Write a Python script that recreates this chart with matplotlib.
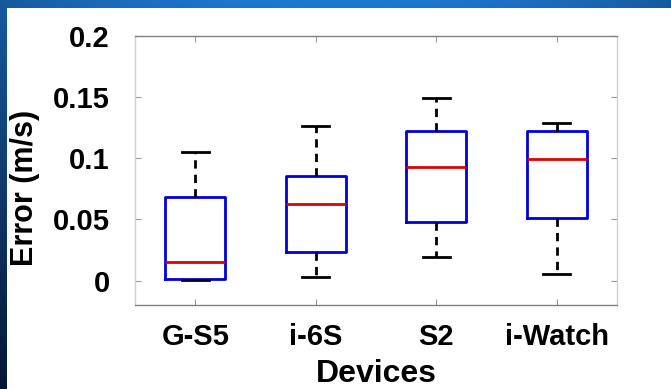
"""Velocity error per device - MATLAB-style boxplot on a blue slide background."""
import numpy as np
import matplotlib.pyplot as plt
from matplotlib.patches import Rectangle

devices = ['G-S5', 'i-6S', 'S2', 'i-Watch']
whis_lo = [0.0003, 0.003, 0.0193, 0.0055]
q1      = [0.0016, 0.0237, 0.0479, 0.0508]
median  = [0.0153, 0.0622, 0.0927, 0.0989]
q3      = [0.0683, 0.0854, 0.1218, 0.1218]
whis_hi = [0.105, 0.126, 0.1495, 0.1283]

plt.rcParams['font.family'] = ['Liberation Sans', 'DejaVu Sans']
plt.rcParams['font.weight'] = 'bold'

fig = plt.figure(figsize=(6.71, 3.89), dpi=100)

# slide background: blue gradient with a white panel
bg = fig.add_axes([0, 0, 1, 1], zorder=-10)
ny, nx = 200, 300
t = np.linspace(0, 1, ny)[:, None, None]
xx = np.linspace(-1, 1, nx)[None, :, None]
top = np.array([0.12, 0.47, 0.82])
bot = np.array([0.03, 0.12, 0.28])
grad = top * (1 - t) + bot * t
grad = grad * (1 - 0.25 * xx ** 2)
bg.imshow(np.clip(grad, 0, 1), aspect='auto', extent=[0, 1, 0, 1])
bg.add_patch(Rectangle((7 / 671, 0), 1, 1 - 8 / 389, facecolor='white',
                       edgecolor='none', transform=bg.transAxes))
bg.set_xlim(0, 1); bg.set_ylim(0, 1)
bg.axis('off')

ax = fig.add_axes([135 / 671, 1 - 305 / 389, 482 / 671, (305 - 35.7) / 389])
ax.set_facecolor('white')

stats = [dict(med=m, q1=a, q3=b, whislo=lo, whishi=hi, fliers=[])
         for m, a, b, lo, hi in zip(median, q1, q3, whis_lo, whis_hi)]
ax.bxp(stats, positions=[1, 2, 3, 4], widths=0.5, capwidths=0.22,
       showfliers=False,
       boxprops=dict(color='#0000dd', lw=2),
       medianprops=dict(color='#e00000', lw=2),
       whiskerprops=dict(color='black', lw=2, linestyle=(0, (3, 2.2))),
       capprops=dict(color='black', lw=2))

ax.set_xlim(0.5, 4.5)
ax.set_ylim(-0.02, 0.2)
ax.set_yticks([0, 0.05, 0.1, 0.15, 0.2])
ax.set_yticklabels(['0', '0.05', '0.1', '0.15', '0.2'])
ax.set_xticks([1, 2, 3, 4])
ax.set_xticklabels(devices)
ax.tick_params(direction='in', length=4, color='#999999', width=0.8,
               top=True, right=True, labelsize=21, pad=13)
ax.tick_params(axis='y', pad=18)
for s in ['top', 'bottom']:
    ax.spines[s].set_color('#808080')
for s in ['left', 'right']:
    ax.spines[s].set_color('#d0d0d0')
for sp in ax.spines.values():
    sp.set_linewidth(1.0)

ax.set_xlabel('Devices', fontsize=23, fontweight='bold', labelpad=6)
ax.set_ylabel('Error (m/s)', fontsize=22, fontweight='bold')
ax.yaxis.set_label_coords(-0.197, 0.435)

fig.savefig('out.png', dpi=100)
print('ok')
